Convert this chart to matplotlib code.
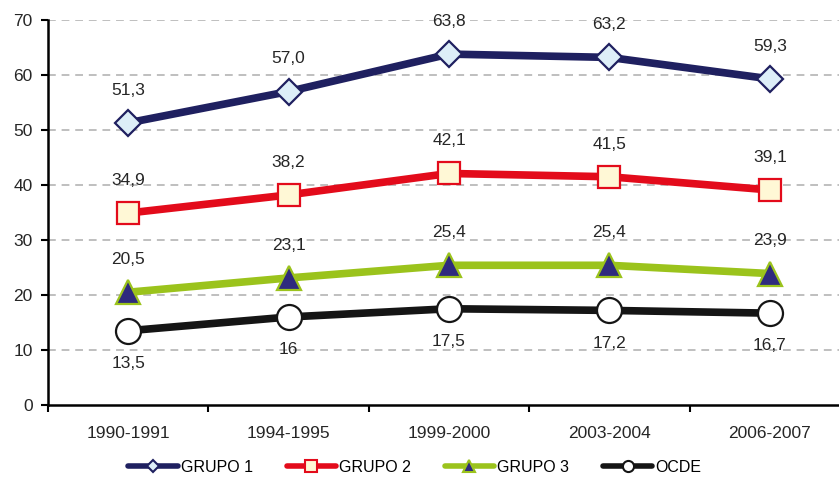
import matplotlib
matplotlib.use("Agg")
import matplotlib.pyplot as plt
from matplotlib.lines import Line2D

categories = ["1990-1991", "1994-1995", "1999-2000", "2003-2004", "2006-2007"]
grupo1 = [51.3, 57.0, 63.8, 63.2, 59.3]
grupo2 = [34.9, 38.2, 42.1, 41.5, 39.1]
grupo3 = [20.5, 23.1, 25.4, 25.4, 23.9]
ocde = [13.5, 16.0, 17.5, 17.2, 16.7]
labels1 = ["51,3", "57,0", "63,8", "63,2", "59,3"]
labels2 = ["34,9", "38,2", "42,1", "41,5", "39,1"]
labels3 = ["20,5", "23,1", "25,4", "25,4", "23,9"]
labels_ocde = ["13,5", "16", "17,5", "17,2", "16,7"]
yticks = [0, 10, 20, 30, 40, 50, 60, 70]

plt.rcParams['font.family'] = ['Liberation Sans', 'DejaVu Sans']

fig = plt.figure(figsize=(8.39, 4.78), dpi=100)
ax = fig.add_axes([48/839, 1-405/478, 802/839, 385/478])
ax.set_xlim(-0.5, 4.5)
ax.set_ylim(0, 70)

for y in yticks[1:]:
    ax.axhline(y, color="#BFBFBF", lw=1.4, ls=(0, (4, 3)), zorder=1)

x = list(range(len(categories)))
series = [
    (grupo1, labels1, "GRUPO 1", "#1F2060", "D", "#DDEEF8", "#1F2060", 13.5, 1),
    (grupo2, labels2, "GRUPO 2", "#E30B1B", "s", "#FFF8D6", "#E30B1B", 16.5, 1),
    (grupo3, labels3, "GRUPO 3", "#9BC31C", "^", "#2E2A7E", "#9BC31C", 17.5, 1),
    (ocde, labels_ocde, "OCDE", "#151515", "o", "white", "#151515", 18, -1),
]
handles = []
for vals, labs, name, col, mk, fc, ec, ms, d in series:
    ax.plot(x, vals, color=col, lw=5.5, marker=mk, ms=ms, mfc=fc, mec=ec, mew=1.6,
            zorder=3, solid_capstyle="round")
    for xi, v, t in zip(x, vals, labs):
        ax.annotate(t, (xi, v), xytext=(0, 23.5 * d), textcoords="offset points",
                    ha="center", va="center", fontsize=12.5, color="#262626")
    lm = {"D": 6, "s": 8, "^": 8, "o": 8}[mk]
    handles.append(Line2D([], [], color=col, lw=4, marker=mk, ms=lm, mfc=fc, mec=ec,
                          mew=1.5, solid_capstyle="round", label=name))

ax.spines["top"].set_visible(False)
ax.spines["right"].set_visible(False)
ax.spines["left"].set_linewidth(1.8)
ax.spines["bottom"].set_linewidth(1.8)
ax.set_yticks(yticks)
ax.set_yticklabels([str(v) for v in yticks], fontsize=12.5, color="#262626")
ax.tick_params(axis="y", length=5, width=1.5, pad=6)
ax.set_xticks(x)
ax.set_xticklabels(categories, fontsize=12.5, color="#262626")
ax.tick_params(axis="x", which="major", length=0, pad=15)
ax.set_xticks([i - 0.5 for i in range(len(categories) + 1)], minor=True)
ax.tick_params(axis="x", which="minor", length=5, width=1.5)

fig.legend(handles=handles, loc="center", bbox_to_anchor=(415/839, 1-467/478), ncol=4,
           frameon=False, fontsize=11.5, handlelength=3.1, handletextpad=0.2,
           columnspacing=2.1)

fig.savefig("out.png", dpi=100)
